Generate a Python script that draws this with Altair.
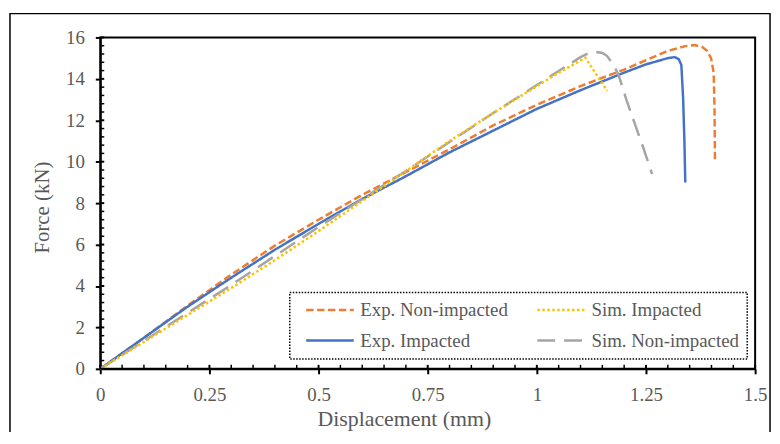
import altair as alt
import pandas as pd

# ---- data ----
exp_non_x = [0, 0.1, 0.2, 0.3, 0.4, 0.5, 0.6, 0.7, 0.8, 0.9, 1.0, 1.1, 1.2, 1.3, 1.34, 1.361, 1.378, 1.39, 1.399, 1.405, 1.407, 1.408]
exp_non_y = [0, 1.5, 3.05, 4.55, 5.95, 7.2, 8.4, 9.5, 10.6, 11.75, 12.75, 13.65, 14.45, 15.35, 15.58, 15.63, 15.55, 15.35, 15.0, 14.3, 12.5, 10.0]

exp_imp_x = [0, 0.1, 0.2, 0.3, 0.4, 0.5, 0.6, 0.7, 0.8, 0.9, 1.0, 1.1, 1.2, 1.25, 1.3, 1.316, 1.325, 1.331, 1.335, 1.338, 1.340]
exp_imp_y = [0, 1.5, 3.0, 4.4, 5.75, 7.0, 8.2, 9.3, 10.45, 11.5, 12.55, 13.45, 14.3, 14.7, 15.0, 15.05, 14.95, 14.67, 13.1, 11.0, 9.0]

sim_non_x = [0, 0.1, 0.2, 0.3, 0.4, 0.5, 0.6, 0.7, 0.8, 0.9, 1.0, 1.07, 1.1, 1.12, 1.134, 1.15, 1.161, 1.175, 1.187, 1.205, 1.225, 1.245, 1.264]
sim_non_y = [0, 1.35, 2.7, 4.05, 5.45, 6.85, 8.2, 9.55, 10.95, 12.35, 13.7, 14.65, 15.05, 15.25, 15.3, 15.25, 15.1, 14.7, 14.2, 13.0, 11.8, 10.6, 9.4]

sim_imp_x = [0, 0.1, 0.2, 0.3, 0.4, 0.5, 0.6, 0.7, 0.8, 0.9, 1.0, 1.05, 1.089, 1.111, 1.161]
sim_imp_y = [0, 1.3, 2.6, 3.9, 5.25, 6.65, 8.1, 9.55, 11.0, 12.35, 13.65, 14.3, 14.75, 15.02, 13.43]

series_names = ["Exp. Non-impacted", "Exp. Impacted", "Sim. Impacted", "Sim. Non-impacted"]
series_colors = ["#ED7D31", "#4472C4", "#FFC000", "#A5A5A5"]
series_dashes = [[7.5, 3.5], [1, 0], [2.5, 2.5], [18, 9]]

x_ticks = [0, 0.25, 0.5, 0.75, 1, 1.25, 1.5]
y_ticks = [0, 2, 4, 6, 8, 10, 12, 14, 16]
x_minor = [0.05, 0.1, 0.15, 0.2, 0.3, 0.35, 0.4, 0.45, 0.55, 0.6, 0.65, 0.7,
           0.8, 0.85, 0.9, 0.95, 1.05, 1.1, 1.15, 1.2, 1.3, 1.35, 1.4, 1.45]
y_minor = [0.4, 0.8, 1.2, 1.6, 2.4, 2.8, 3.2, 3.6, 4.4, 4.8, 5.2, 5.6,
           6.4, 6.8, 7.2, 7.6, 8.4, 8.8, 9.2, 9.6, 10.4, 10.8, 11.2, 11.6,
           12.4, 12.8, 13.2, 13.6, 14.4, 14.8, 15.2, 15.6]

rows = []
for name, xs, ys in [("Exp. Non-impacted", exp_non_x, exp_non_y),
                     ("Exp. Impacted", exp_imp_x, exp_imp_y),
                     ("Sim. Non-impacted", sim_non_x, sim_non_y),
                     ("Sim. Impacted", sim_imp_x, sim_imp_y)]:
    for i, (a, b) in enumerate(zip(xs, ys)):
        rows.append({"series": name, "x": a, "y": b, "idx": i})
df = pd.DataFrame(rows)

FONT = "Liberation Serif"
W, H = 660, 334

xscale = alt.Scale(domain=[0, 1.5], nice=False)
yscale = alt.Scale(domain=[0, 16], nice=False)
xaxis = alt.Axis(values=x_ticks, format=".3~g", title="Displacement (mm)",
                 titleX=306, titleY=57, titleBaseline="alphabetic", titleAnchor="middle",
                 titleFontSize=22, labelPadding=12, labelFlush=False)
yaxis = alt.Axis(values=y_ticks, format="d", title="Force (kN)",
                 titleX=-52, titleY=171, titleBaseline="alphabetic", titleAnchor="middle",
                 titleFontSize=21, labelPadding=11, labelFlush=False)
X = alt.X("x:Q", scale=xscale, axis=xaxis)
Y = alt.Y("y:Q", scale=yscale, axis=yaxis)

leg = alt.Legend(title=None, orient="none", legendX=191, legendY=257, columns=2)

lines = alt.Chart(df).mark_line(strokeWidth=2.5).encode(
    x=X, y=Y,
    color=alt.Color("series:N", scale=alt.Scale(domain=series_names, range=series_colors), legend=leg),
    strokeDash=alt.StrokeDash("series:N", scale=alt.Scale(domain=series_names, range=series_dashes), legend=leg),
    order="idx:Q",
)

xmin_df = pd.DataFrame({"x": x_minor})
xmaj_df = pd.DataFrame({"x": x_ticks})
ymin_df = pd.DataFrame({"y": y_minor})
ymaj_df = pd.DataFrame({"y": y_ticks})

xminor_rules = alt.Chart(xmin_df).mark_rule(color="black", strokeWidth=1.5).encode(
    x=X, y=alt.value(H), y2=alt.value(H - 4))
xmajor_rules = alt.Chart(xmaj_df).mark_rule(color="black", strokeWidth=2).encode(
    x=X, y=alt.value(H), y2=alt.value(H - 4))
yminor_rules = alt.Chart(ymin_df).mark_rule(color="black", strokeWidth=1.5).encode(
    y=Y, x=alt.value(0), x2=alt.value(4))
ymajor_rules = alt.Chart(ymaj_df).mark_rule(color="black", strokeWidth=2).encode(
    y=Y, x=alt.value(0), x2=alt.value(4))

frame = alt.Chart(pd.DataFrame({"a": [0]})).mark_rect(
    filled=False, stroke="black", strokeWidth=1.5).encode(
    x=alt.value(-91), x2=alt.value(675), y=alt.value(-24), y2=alt.value(470))

chart = alt.layer(frame, lines, xminor_rules, xmajor_rules, yminor_rules, ymajor_rules).properties(
    width=W, height=H,
    padding={"left": 93, "top": 28, "right": 17, "bottom": 62},
    autosize=alt.AutoSizeParams(type="none"),
    background="white",
).configure_view(
    stroke="black", strokeWidth=2
).configure_axis(
    grid=False,
    domainColor="black", domainWidth=2,
    tickColor="black", tickWidth=2, tickSize=5,
    labelFont=FONT, labelFontSize=19, labelColor="#595959",
    titleFont=FONT, titleFontSize=22, titleColor="#595959", titleFontWeight="normal",
).configure_legend(
    labelFont=FONT, labelFontSize=19, labelColor="#595959",
    symbolType="stroke", symbolSize=2304, symbolStrokeWidth=2.5,
    labelOffset=5, columnPadding=21, rowPadding=11, padding=8,
    symbolOffset=7, clipHeight=19,
    strokeColor="black", strokeDash=[1.5, 1.5], strokeWidth=1.5,
)

chart.save("out.html", embed_options={"renderer": "svg", "actions": False})
